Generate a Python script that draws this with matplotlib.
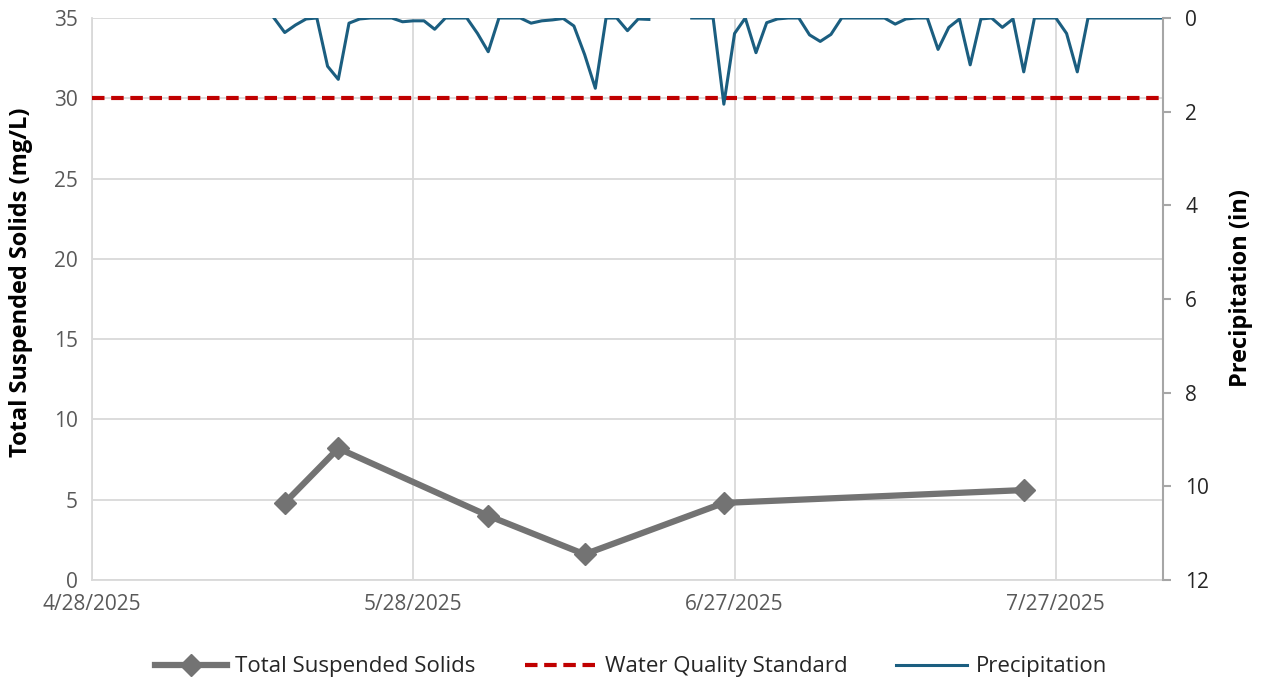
import numpy as np
import pandas as pd
import matplotlib.pyplot as plt
import matplotlib.dates as mdates

plt.rcParams['font.family'] = ['Open Sans', 'DejaVu Sans']

# Total suspended solids samples
tss_dates = ['2025-05-16', '2025-05-21', '2025-06-04', '2025-06-13', '2025-06-26', '2025-07-24']
tss_values = [4.8, 8.2, 4.0, 1.6, 4.8, 5.6]

# water quality standard
wqs_value = 30

# daily precipitation (in), starting 2025-05-15, nan = missing
precip_start = '2025-05-15'
precip_values = [
    0, 0.31, 0.15, 0.02, 0, 1.03, 1.31, 0.11, 0.02, 0,
    0, 0, 0.08, 0.06, 0.06, 0.24, 0, 0, 0, 0.33,
    0.72, 0, 0, 0, 0.11, 0.06, 0.04, 0.01, 0.17, 0.78,
    1.5, 0, 0, 0.27, 0.02, 0.03, np.nan, np.nan, np.nan, 0,
    0, 0, 1.84, 0.33, 0, 0.74, 0.10, 0.02, 0, 0,
    0.36, 0.50, 0.35, 0, 0, 0, 0, 0, 0.13, 0.02,
    0, 0, 0.67, 0.20, 0.02, 1.00, 0.02, 0, 0.20, 0.02,
    1.15, 0, 0, 0, 0.33, 1.15, 0, 0, 0, 0,
    0, 0, 0, 0,
]
xticks = ['2025-04-28', '2025-05-28', '2025-06-27', '2025-07-27']
x_range = ('2025-04-28', '2025-08-06')

tss_x = pd.to_datetime(tss_dates)
precip_x = pd.date_range(precip_start, periods=len(precip_values), freq='D')

fig = plt.figure(figsize=(12.63, 6.85), dpi=100)
ax = fig.add_axes([0.0728, 0.1533, 0.848, 0.8204])
ax2 = ax.twinx()

grid_c = '#d9d9d9'
text_c = '#595959'

ax.plot(tss_x, tss_values, color='#737373', lw=4.5, marker='D', ms=11, zorder=3,
        label='Total Suspended Solids')
ax.axhline(wqs_value, color='#c00000', lw=3, ls=(0, (3, 1.6)), zorder=3,
           label='Water Quality Standard')
ax2.plot(precip_x, precip_values, color='#1b5e80', lw=2.2, label='Precipitation')

ax.set_ylim(0, 35)
ax.set_yticks(range(0, 36, 5))
ax2.set_ylim(12, 0)
ax2.set_yticks(range(0, 13, 2))
ax.set_xlim(pd.to_datetime(x_range[0]), pd.to_datetime(x_range[1]))
ax.set_xticks(pd.to_datetime(xticks))
ax.xaxis.set_major_formatter(mdates.DateFormatter('%-m/%d/%Y'))

ax.grid(True, color=grid_c, lw=1.3)
ax.set_axisbelow(True)
for s in ['top', 'right']:
    ax.spines[s].set_visible(False)
for s in ['left', 'bottom']:
    ax.spines[s].set_color(grid_c)
    ax.spines[s].set_linewidth(1.3)
for s in ['top', 'left', 'bottom']:
    ax2.spines[s].set_visible(False)
ax2.spines['right'].set_color('#a6a6a6')
ax2.spines['right'].set_linewidth(1.5)

ax.tick_params(axis='both', length=0, labelsize=15, colors=text_c, pad=10)
ax.tick_params(axis='x', pad=10)
ax2.tick_params(axis='y', length=6, width=1.5, color='#a6a6a6', labelsize=15,
                labelcolor='#262626', pad=10)

ax.set_ylabel('Total Suspended Solids (mg/L)', fontsize=17, fontweight='bold')
ax.yaxis.set_label_coords(-0.055, 0.53)
ax2.set_ylabel('Precipitation (in)', fontsize=17, fontweight='bold')
ax2.yaxis.set_label_coords(1.062, 0.52)

h1, l1 = ax.get_legend_handles_labels()
h2, l2 = ax2.get_legend_handles_labels()
fig.legend(h1 + h2, l1 + l2, loc='lower center', bbox_to_anchor=(0.5, -0.018), ncol=3,
           frameon=False, fontsize=16, handlelength=3.2, handletextpad=0.4,
           columnspacing=2.2, labelcolor='#262626')

fig.savefig('out.png', dpi=100)
